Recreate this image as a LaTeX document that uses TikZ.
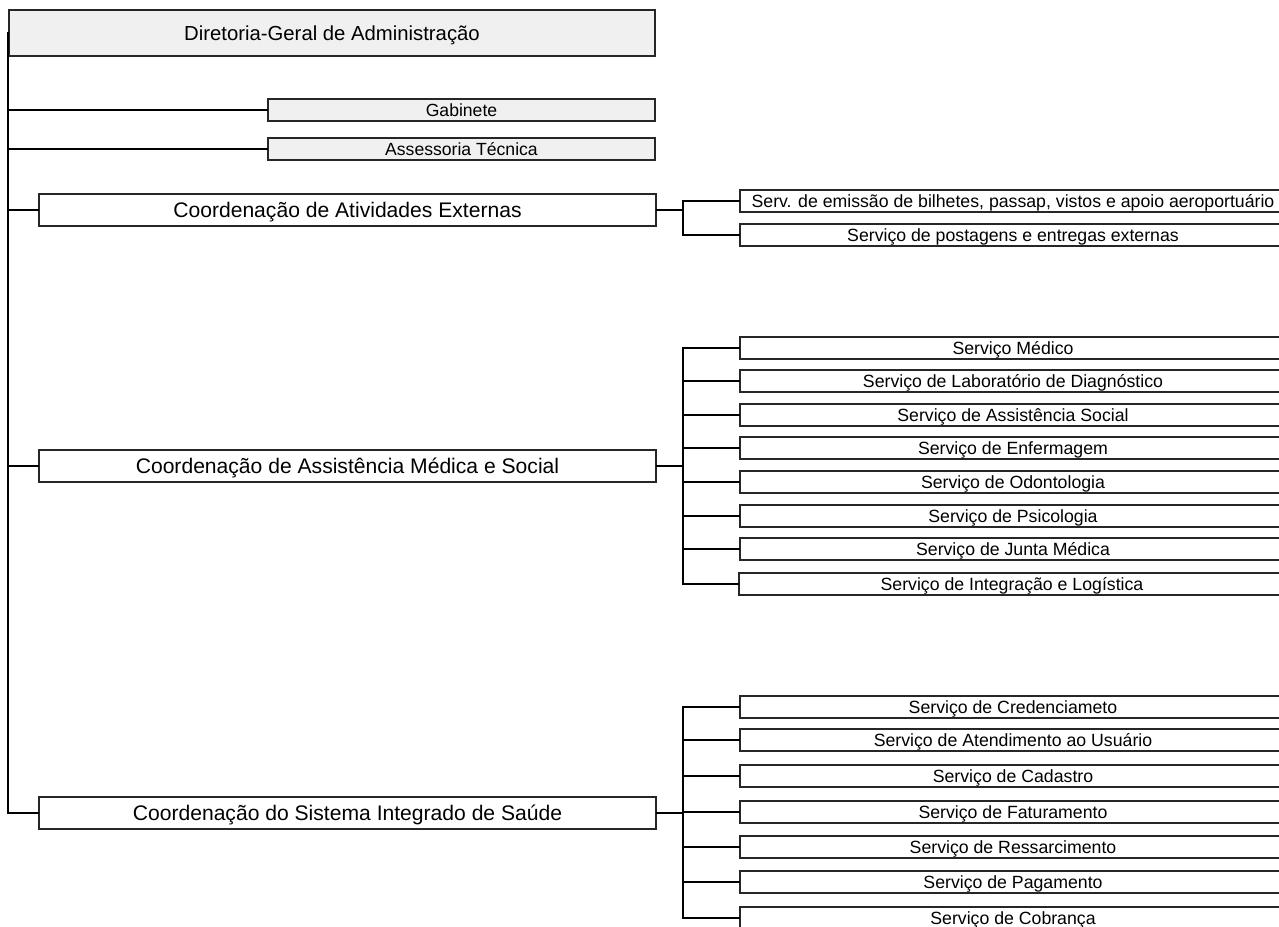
\documentclass[tikz,border=0pt]{standalone}
\usepackage{fontspec}
\setmainfont{Liberation Sans}
\begin{document}
\definecolor{boxgray}{HTML}{F0F0F0}
\definecolor{edge}{HTML}{262626}
\begin{tikzpicture}[x=1pt,y=-1pt,
  basebox/.style={draw=edge,line width=1.1pt,rectangle,inner sep=0pt,outer sep=0pt,
    text depth=0pt,align=center},
  dirbox/.style={basebox,fill=boxgray,minimum width=646pt,minimum height=46pt,
    text height=14.5pt,font=\fontsize{20.3}{24}\selectfont},
  staffbox/.style={basebox,fill=boxgray,minimum width=387pt,minimum height=22pt,
    text height=12.6pt,font=\fontsize{17.6}{21}\selectfont},
  coordbox/.style={basebox,fill=white,minimum width=617pt,minimum height=32pt,
    text height=15.1pt,font=\fontsize{21.1}{25}\selectfont},
  servbox/.style={basebox,fill=white,minimum width=546pt,minimum height=22pt,
    text height=12.7pt,font=\fontsize{17.7}{21}\selectfont},
  trunk/.style={line width=2pt,black},
  link/.style={line width=1.8pt,black},
]
\clip (0,0) rectangle (1279,926);
\fill[white] (0,0) rectangle (1279,926);

% top level and staff units
\node[dirbox] (dir) at (332,33) {Diretoria-Geral de Administração};
\node[staffbox] (gab) at (461.5,110) {Gabinete};
\node[staffbox] (ass) at (461.5,149) {Assessoria Técnica};

% coordinations
\node[coordbox] (cext) at (347.5,210) {Coordenação de Atividades Externas};
\node[coordbox] (cmed) at (347.5,466) {Coordenação de Assistência Médica e Social};
\node[coordbox] (csis) at (347.5,813) {Coordenação do Sistema Integrado de Saúde};

% services of the external activities coordination
\node[servbox] (e1) at (1013,201) {Serv. de emissão de bilhetes, passap, vistos e apoio aeroportuário};
\node[servbox] (e2) at (1013,235) {Serviço de postagens e entregas externas};

% services of the medical and social care coordination
\node[servbox] (m1) at (1013,348) {Serviço Médico};
\node[servbox] (m2) at (1013,381) {Serviço de Laboratório de Diagnóstico};
\node[servbox] (m3) at (1013,415) {Serviço de Assistência Social};
\node[servbox] (m4) at (1013,448) {Serviço de Enfermagem};
\node[servbox] (m5) at (1013,482) {Serviço de Odontologia};
\node[servbox] (m6) at (1013,516) {Serviço de Psicologia};
\node[servbox] (m7) at (1013,549) {Serviço de Junta Médica};
\node[servbox] (m8) at (1012,584) {Serviço de Integração e Logística};

% services of the integrated health system coordination
\node[servbox] (s1) at (1013,707) {Serviço de Credenciameto};
\node[servbox] (s2) at (1013,740) {Serviço de Atendimento ao Usuário};
\node[servbox] (s3) at (1013,776) {Serviço de Cadastro};
\node[servbox] (s4) at (1013,812) {Serviço de Faturamento};
\node[servbox] (s5) at (1013,847) {Serviço de Ressarcimento};
\node[servbox] (s6) at (1013,882) {Serviço de Pagamento};
\node[servbox] (s7) at (1013,918) {Serviço de Cobrança};

% main trunk on the left
\coordinate (ttop) at (8,32);
\draw[trunk] (ttop) |- (csis.west);
\draw[link] (ttop |- gab.west) -- (gab.west);
\draw[link] (ttop |- ass.west) -- (ass.west);
\draw[link] (ttop |- cext.west) -- (cext.west);
\draw[link] (ttop |- cmed.west) -- (cmed.west);

% buses on the right
\coordinate (bus) at (683,0);
\draw[link] (cext.east) -- (bus |- cext.east);
\draw[link] (e1.west) -| (bus |- e2.west) -- (e2.west);

\draw[link] (cmed.east) -- (bus |- cmed.east);
\draw[link] (m1.west) -| (bus |- m8.west) -- (m8.west);
\foreach \n in {m2,m3,m4,m5,m6,m7} \draw[link] (bus |- \n.west) -- (\n.west);

\draw[link] (csis.east) -- (bus |- csis.east);
\draw[link] (s1.west) -| (bus |- s7.west) -- (s7.west);
\foreach \n in {s2,s3,s4,s5,s6} \draw[link] (bus |- \n.west) -- (\n.west);
\end{tikzpicture}
\end{document}
